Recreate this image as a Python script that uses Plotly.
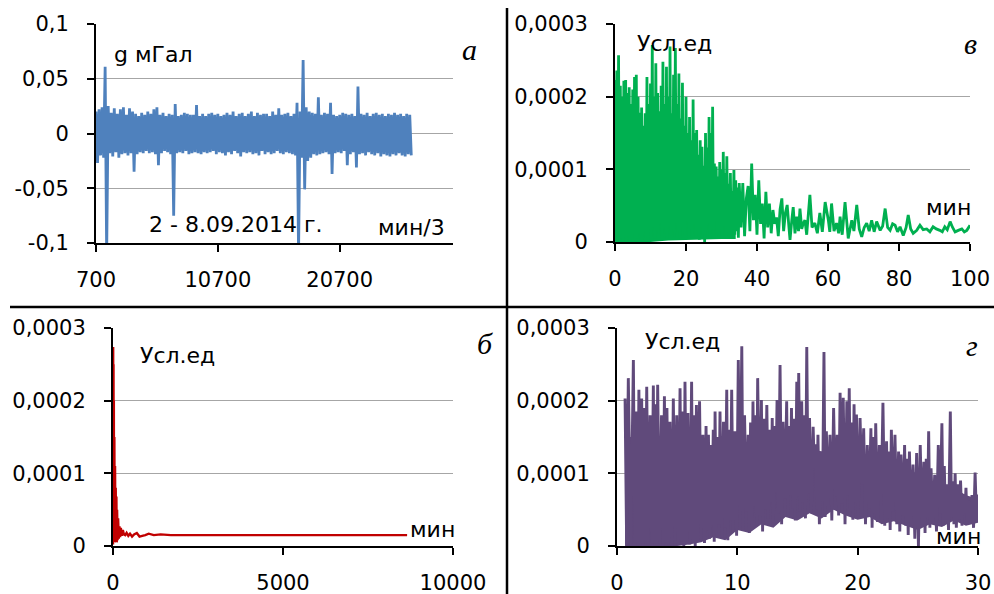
import plotly.graph_objects as go

# ---------------- DATA ----------------
# Panel "а": gravity record, x = sample number (мин/3), y in units of 0.001 мГал
A_UNIT = 1e-3
a_x = [
    700, 825, 950, 1075, 1200, 1325, 1450, 1575,
    1700, 1825, 1950, 2075, 2200, 2325, 2450, 2575,
    2700, 2825, 2950, 3075, 3200, 3325, 3450, 3575,
    3700, 3825, 3950, 4075, 4200, 4325, 4450, 4575,
    4700, 4825, 4950, 5075, 5200, 5325, 5450, 5575,
    5700, 5825, 5950, 6075, 6200, 6325, 6450, 6575,
    6700, 6825, 6950, 7075, 7200, 7325, 7450, 7575,
    7700, 7825, 7950, 8075, 8200, 8325, 8450, 8575,
    8700, 8825, 8950, 9075, 9200, 9325, 9450, 9575,
    9700, 9825, 9950, 10075, 10200, 10325, 10450, 10575,
    10700, 10825, 10950, 11075, 11200, 11325, 11450, 11575,
    11700, 11825, 11950, 12075, 12200, 12325, 12450, 12575,
    12700, 12825, 12950, 13075, 13200, 13325, 13450, 13575,
    13700, 13825, 13950, 14075, 14200, 14325, 14450, 14575,
    14700, 14825, 14950, 15075, 15200, 15325, 15450, 15575,
    15700, 15825, 15950, 16075, 16200, 16325, 16450, 16575,
    16700, 16825, 16950, 17075, 17200, 17325, 17450, 17575,
    17700, 17825, 17950, 18075, 18200, 18325, 18450, 18575,
    18700, 18825, 18950, 19075, 19200, 19325, 19450, 19575,
    19700, 19825, 19950, 20075, 20200, 20325, 20450, 20575,
    20700, 20825, 20950, 21075, 21200, 21325, 21450, 21575,
    21700, 21825, 21950, 22075, 22200, 22325, 22450, 22575,
    22700, 22825, 22950, 23075, 23200, 23325, 23450, 23575,
    23700, 23825, 23950, 24075, 24200, 24325, 24450, 24575,
    24700, 24825, 24950, 25075, 25200, 25325, 25450, 25575,
    25700, 25825, 25950, 26075, 26200, 26325, 26450, 26575,
]
a_y = [
    20, -27, 22, -20, 24, -22, 61, -110,
    25, -18, 19, -21, 23, -17, 18, -22,
    22, -19, 24, -18, 17, -20, 23, -18,
    20, -35, 18, -19, 16, -17, 19, -18,
    17, -16, 20, -18, 18, -17, 22, -19,
    24, -29, 17, -18, 19, -16, 16, -17,
    18, -19, 17, -75, 27, -18, 16, -17,
    17, -18, 19, -16, 18, -19, 17, -18,
    17, -17, 26, -18, 16, -19, 18, -17,
    16, -18, 18, -17, 19, -16, 17, -19,
    18, -17, 16, -18, 17, -20, 19, -17,
    17, -19, 20, -16, 16, -18, 18, -21,
    19, -17, 16, -18, 18, -17, 20, -19,
    16, -18, 19, -20, 17, -16, 18, -19,
    18, -17, 16, -19, 20, -18, 17, -16,
    23, -18, 17, -19, 18, -17, 19, -18,
    16, -19, 18, -20, 28, -110, 20, -22,
    67, -51, 24, -25, 20, -22, 19, -19,
    18, -20, 33, -19, 17, -18, 19, -17,
    18, -19, 28, -37, 17, -18, 16, -17,
    17, -18, 19, -16, 18, -29, 17, -19,
    18, -17, 16, -31, 43, -19, 18, -18,
    17, -20, 19, -17, 16, -19, 18, -20,
    19, -18, 17, -21, 18, -19, 16, -20,
    18, -21, 17, -19, 19, -20, 17, -18,
    18, -20, 16, -21, 18, -19, 17, -20,
]

# Spectra values in units of 1e-6 (Усл.ед)
S_UNIT = 1e-6

# Panel "б": spectrum 0..10000 мин
b_x = [0, 5, 10, 15, 20, 25, 30, 40, 50, 60,
       70, 80, 90, 100, 110, 120, 135, 150, 170, 190,
       210, 230, 260, 290, 320, 360, 400, 450, 500, 560,
       620, 700, 780, 860, 950, 1050, 1200, 1400, 1700, 2200,
       3000, 4000, 5000, 6000, 7000, 8000, 8650]
b_y = [2, 274, 40, 250, 20, 200, 10, 150, 5, 110,
       8, 80, 10, 68, 5, 50, 8, 38, 10, 27,
       12, 25, 14, 22, 16, 15, 18, 14, 17, 13,
       16, 18, 13, 14, 15, 17, 15, 16, 15, 15,
       15, 15, 15, 15, 15, 15, 15]

# Panel "в": spectrum 0..100 мин (peaks, troughs, and the sparse tail)
v_hi_x = [0, 0.5, 1, 1.5, 2, 2.5, 3, 3.5, 4, 4.5,
          5, 5.5, 6, 6.5, 7, 7.5, 8, 8.5, 9, 9.5,
          10, 10.5, 11, 11.5, 12, 12.5, 13, 13.5, 14, 14.5,
          15, 15.5, 16, 16.5, 17, 17.5, 18, 18.5, 19, 19.5,
          20, 20.5, 21, 21.5, 22, 22.5, 23, 23.5, 24, 24.5,
          25, 25.5, 26, 26.5, 27, 27.5, 28, 28.5, 29, 29.5,
          30, 30.5, 31, 31.5, 32, 32.5, 33, 33.5, 34, 34.5]
v_hi = [223, 236, 257, 215, 200, 222, 223, 205, 213, 190,
        210, 227, 230, 200, 178, 185, 160, 177, 227, 190,
        218, 271, 200, 246, 205, 180, 215, 248, 190, 241,
        200, 269, 177, 230, 267, 190, 232, 170, 219, 160,
        200, 150, 172, 140, 196, 150, 154, 120, 140, 131,
        105, 150, 130, 172, 150, 186, 108, 104, 90, 110,
        100, 124, 95, 118, 80, 95, 70, 99, 85, 75]
v_lo_x = [0.25, 0.75, 1.25, 1.75, 2.25, 2.75, 3.25, 3.75, 4.25, 4.75,
          5.25, 5.75, 6.25, 6.75, 7.25, 7.75, 8.25, 8.75, 9.25, 9.75,
          10.25, 10.75, 11.25, 11.75, 12.25, 12.75, 13.25, 13.75, 14.25, 14.75,
          15.25, 15.75, 16.25, 16.75, 17.25, 17.75, 18.25, 18.75, 19.25, 19.75,
          20.25, 20.75, 21.25, 21.75, 22.25, 22.75, 23.25, 23.75, 24.25, 24.75,
          25.25, 25.75, 26.25, 26.75, 27.25, 27.75, 28.25, 28.75, 29.25, 29.75,
          30.25, 30.75, 31.25, 31.75, 32.25, 32.75, 33.25, 33.75, 34.25, 34.75]
v_lo = [0, 3, 1, 5, 0, 6, 2, 8, 0, 4,
        10, 1, 5, 12, 2, 0, 15, 6, 3, 18,
        8, 20, 5, 16, 10, 25, 6, 20, 12, 4,
        22, 10, 18, 8, 26, 14, 5, 20, 15, 10,
        28, 6, 18, 12, 24, 8, 16, 3, 20, 10,
        0, 15, 25, 6, 18, 10, 28, 12, 5, 18,
        10, 22, 8, 16, 12, 4, 18, 10, 15, 6]
v_tail_x = [35.0, 35.5, 36.0, 36.5, 37.0, 37.5, 38.0, 38.5, 39.0, 39.5,
            40.0, 40.5, 41.0, 41.5, 42.0, 42.5, 43.0, 43.5, 44.0, 44.5,
            45.0, 45.5, 46.0, 46.5, 47.0, 47.5, 48.0, 48.5, 49.0, 49.3,
            49.8, 50.2, 50.7, 51.2, 51.7, 52.1, 52.6, 53.0, 53.5, 54.0,
            54.9, 55.5, 56.3, 57.0, 57.7, 58.4, 59.2, 60.1, 60.5, 61.0,
            61.7, 62.4, 63.0, 63.4, 64.0, 64.8, 65.7, 66.7, 67.3, 68.1,
            68.8, 69.5, 70.2, 70.9, 71.6, 72.3, 73.0, 73.7, 74.7, 75.4,
            76.1, 76.8, 77.5, 78.2, 78.9, 79.6, 80.3, 81.2, 82.0, 82.6,
            83.3, 84.0, 85.0, 85.9, 86.8, 87.8, 88.7, 89.6, 90.5, 91.5,
            92.2, 92.9, 93.6, 94.4, 95.1, 95.8, 96.7, 97.7, 98.4, 99.1,
            100.0]
v_tail = [81, 20, 81, 8, 60, 77, 15, 108, 30, 65,
          10, 85, 25, 53, 5, 69, 20, 53, 12, 44,
          25, 34, 8, 45, 60, 15, 40, 51, 20, 3,
          30, 48, 12, 35, 15, 46, 18, 25, 30, 10,
          65, 20, 26, 12, 40, 14, 55, 30, 14, 53,
          15, 26, 12, 35, 10, 55, 5, 30, 15, 51,
          18, 7, 20, 26, 15, 30, 14, 28, 16, 22,
          46, 20, 16, 25, 23, 14, 21, 9, 20, 37,
          18, 12, 16, 23, 17, 18, 14, 21, 18, 16,
          14, 21, 17, 28, 20, 14, 16, 18, 14, 16,
          23]
# Solid core of the dense green band (lower and upper edge of the filled body)
v_band_x = [0, 5, 10, 15, 20, 25, 30, 34]
v_band_lo = [0, 0, 0, 2, 3, 3, 4, 4]
v_band_hi = [140, 140, 135, 120, 100, 75, 50, 30]

# Panel "г": spectrum 0..30 мин (peaks and troughs)
g_hi_x = [0.67, 0.94, 1.36, 1.6, 1.82, 2.05, 2.25, 2.47, 2.75, 3.02,
          3.2, 3.38, 3.7, 3.94, 4.15, 4.4, 4.68, 4.96, 5.24, 5.45,
          5.65, 5.9, 6.2, 6.4, 6.6, 6.86, 7.14, 7.4, 7.6, 7.78,
          8.0, 8.15, 8.35, 8.56, 8.85, 9.12, 9.3, 9.53, 9.8, 10.08,
          10.37, 10.6, 10.9, 11.1, 11.3, 11.5, 11.69, 12.0, 12.2, 12.45,
          12.7, 12.9, 13.1, 13.3, 13.55, 13.8, 14.1, 14.3, 14.5, 14.7,
          14.94, 15.1, 15.35, 15.55, 15.77, 16.0, 16.3, 16.5, 16.7, 16.95,
          17.2, 17.4, 17.7, 18.0, 18.3, 18.54, 18.8, 19.1, 19.3, 19.5,
          19.7, 19.9, 20.2, 20.5, 20.8, 21.1, 21.3, 21.5, 21.8, 22.1,
          22.4, 22.6, 22.8, 23.1, 23.4, 23.6, 23.9, 24.1, 24.3, 24.6,
          24.9, 25.2, 25.5, 25.7, 25.9, 26.1, 26.4, 26.7, 27.0, 27.2,
          27.4, 27.7, 27.9, 28.1, 28.3, 28.55, 28.8, 29.0, 29.2, 29.5,
          29.76, 30.0]
g_hi = [203, 231, 256, 185, 215, 203, 190, 219, 180, 221,
        195, 222, 180, 206, 190, 171, 203, 180, 217, 185,
        226, 183, 226, 180, 194, 199, 153, 165, 153, 139,
        160, 185, 150, 185, 171, 215, 160, 215, 158, 256,
        275, 180, 153, 170, 199, 180, 231, 201, 175, 194,
        160, 176, 165, 201, 249, 171, 199, 165, 190, 175,
        226, 238, 199, 180, 274, 176, 164, 140, 153, 130,
        267, 158, 153, 190, 153, 211, 204, 199, 217, 170,
        195, 181, 176, 162, 139, 162, 150, 169, 139, 197,
        144, 130, 160, 153, 130, 126, 139, 120, 130, 112,
        128, 139, 116, 120, 158, 107, 98, 139, 169, 110,
        85, 185, 89, 100, 85, 90, 71, 80, 62, 70,
        101, 71]
g_lo_x = [0.8, 1.15, 1.48, 1.71, 1.93, 2.15, 2.36, 2.6, 2.88, 3.11,
          3.29, 3.54, 3.82, 4.05, 4.28, 4.54, 4.82, 5.1, 5.35, 5.55,
          5.78, 6.05, 6.3, 6.5, 6.73, 7.0, 7.27, 7.5, 7.69, 7.89,
          8.08, 8.25, 8.46, 8.7, 8.98, 9.21, 9.42, 9.66, 9.94, 10.22,
          10.48, 10.75, 11.0, 11.2, 11.4, 11.6, 11.85, 12.1, 12.33, 12.58,
          12.8, 13.0, 13.2, 13.42, 13.68, 13.95, 14.2, 14.4, 14.6, 14.82,
          15.02, 15.22, 15.45, 15.66, 15.88, 16.15, 16.4, 16.6, 16.82, 17.08,
          17.3, 17.55, 17.85, 18.15, 18.42, 18.67, 18.95, 19.2, 19.4, 19.6,
          19.8, 20.05, 20.35, 20.65, 20.95, 21.2, 21.4, 21.65, 21.95, 22.25,
          22.5, 22.7, 22.95, 23.25, 23.5, 23.75, 24.0, 24.2, 24.45, 24.75,
          25.05, 25.35, 25.6, 25.8, 26.0, 26.25, 26.55, 26.85, 27.1, 27.3,
          27.55, 27.8, 28.0, 28.2, 28.42, 28.67, 28.9, 29.1, 29.35, 29.63,
          29.88]
g_lo = [2, 0, 5, 1, 3, 0, 6, 2, 0, 4,
        1, 3, 0, 5, 2, 0, 4, 1, 6, 0,
        3, 2, 5, 0, 8, 15, 4, 22, 10, 28,
        6, 18, 30, 12, 25, 8, 35, 20, 14, 40,
        22, 48, 18, 35, 55, 28, 42, 20, 50, 38,
        60, 32, 74, 45, 30, 65, 40, 70, 52, 35,
        68, 48, 60, 38, 72, 45, 107, 50, 30, 62,
        40, 55, 35, 68, 42, 58, 30, 70, 48, 36,
        60, 40, 85, 30, 52, 25, 45, 33, 55, 28,
        38, 22, 48, 30, 20, 42, 28, 15, 36, 10,
        0, 30, 18, 40, 25, 33, 20, 45, 28, 35,
        22, 40, 30, 25, 37, 28, 45, 30, 35, 25,
        33]
# Solid core of the dense purple band (lower and upper edge of the filled body)
g_band_x = [0.67, 1, 2, 3, 4, 5, 6, 7, 8, 9,
            10, 11, 12, 13, 14, 15, 16, 17, 18, 19,
            20, 21, 22, 23, 24, 25, 26, 27, 28, 29,
            30]
g_band_lo = [0, 0, 0, 0, 0, 0, 2, 5, 12, 8,
             22, 18, 30, 25, 40, 35, 45, 38, 50, 42,
             36, 40, 30, 34, 28, 22, 30, 26, 35, 28,
             32]
g_band_hi = [150, 150, 150, 148, 145, 145, 140, 138, 130, 135,
             135, 140, 140, 145, 140, 138, 135, 130, 135, 130,
             125, 120, 115, 110, 105, 100, 90, 85, 80, 70,
             65]

# Tick values / labels
a_xticks = [700, 10700, 20700]
a_xlabels = ["700", "10700", "20700"]
a_yticks = [-0.1, -0.05, 0, 0.05, 0.1]
a_ylabels = ["-0,1", "-0,05", "0", "0,05", "0,1"]
s_yticks = [0, 0.0001, 0.0002, 0.0003]
s_ylabels = ["0", "0,0001", "0,0002", "0,0003"]
v_xticks = [0, 20, 40, 60, 80, 100]
v_xlabels = ["0", "20", "40", "60", "80", "100"]
b_xticks = [0, 5000, 10000]
b_xlabels = ["0", "5000", "10000"]
g_xticks = [0, 10, 20, 30]
g_xlabels = ["0", "10", "20", "30"]

# ---------------- BUILD ----------------
def merge(*pairs):
    pts = []
    for xs, ys in pairs:
        pts.extend(zip(xs, ys))
    pts.sort(key=lambda p: p[0])
    return [p[0] for p in pts], [p[1] * S_UNIT for p in pts]

vx, vy = merge((v_hi_x, v_hi), (v_lo_x, v_lo), (v_tail_x, v_tail))
gx, gy = merge((g_hi_x, g_hi), (g_lo_x, g_lo))
bx, by = merge((b_x, b_y))
ay = [v * A_UNIT for v in a_y]
gbx, gbl = merge((g_band_x, g_band_lo))
_, gbh = merge((g_band_x, g_band_hi))
vbx, vbl = merge((v_band_x, v_band_lo))
_, vbh = merge((v_band_x, v_band_hi))

GREEN = "#00B050"
PURPLE = "#604A7B"


def add_band(fig, xs, lo, hi, color, xa, ya):
    fig.add_trace(go.Scatter(x=xs, y=lo, mode="lines", xaxis=xa, yaxis=ya,
                             line=dict(color=color, width=0)))
    fig.add_trace(go.Scatter(x=xs, y=hi, mode="lines", xaxis=xa, yaxis=ya,
                             line=dict(color=color, width=0), fill="tonexty",
                             fillcolor=color))


fig = go.Figure()
fig.add_trace(go.Scatter(x=a_x, y=ay, mode="lines", xaxis="x", yaxis="y",
                         line=dict(color="#4F81BD", width=2.8, simplify=False)))
add_band(fig, vbx, vbl, vbh, GREEN, "x2", "y2")
fig.add_trace(go.Scatter(x=vx, y=vy, mode="lines", xaxis="x2", yaxis="y2",
                         line=dict(color=GREEN, width=2.8, simplify=False)))
fig.add_trace(go.Scatter(x=bx, y=by, mode="lines", xaxis="x3", yaxis="y3",
                         line=dict(color="#C00000", width=2.4, simplify=False)))
add_band(fig, gbx, gbl, gbh, PURPLE, "x4", "y4")
fig.add_trace(go.Scatter(x=gx, y=gy, mode="lines", xaxis="x4", yaxis="y4",
                         line=dict(color=PURPLE, width=2.9, simplify=False)))

W, H = 994, 594
def fx(px):
    return px / W
def fy(py):
    return 1 - py / H

TICKFONT = dict(family="DejaVu Sans", size=21, color="black")
base = dict(showline=True, linecolor="black", linewidth=2, ticks="outside",
            ticklen=7, tickwidth=2, tickcolor="black", zeroline=False,
            tickfont=TICKFONT, tickmode="array", fixedrange=True,
            automargin=False)
xbase = dict(base, showgrid=False, ticklabelstandoff=10)
ybase = dict(base, showgrid=True, gridcolor="#A6A6A6", gridwidth=1,
             ticklabelstandoff=14)

layout = dict(
    width=W, height=H, margin=dict(l=0, r=0, t=0, b=0, autoexpand=False),
    paper_bgcolor="white", plot_bgcolor="white", showlegend=False,
    hovermode=False,
    xaxis=dict(xbase, domain=[fx(96), fx(453)], range=[700, 30000], anchor="y",
               tickvals=a_xticks, ticktext=a_xlabels),
    yaxis=dict(ybase, domain=[fy(243), fy(24)], range=[-0.1, 0.1], anchor="x",
               tickvals=a_yticks, ticktext=a_ylabels),
    xaxis2=dict(xbase, domain=[fx(615), fx(970)], range=[0, 100], anchor="y2",
                tickvals=v_xticks, ticktext=v_xlabels),
    yaxis2=dict(ybase, domain=[fy(242), fy(24)], range=[0, 0.0003], anchor="x2",
                tickvals=s_yticks, ticktext=s_ylabels),
    xaxis3=dict(xbase, domain=[fx(113), fx(453)], range=[0, 10000], anchor="y3",
                tickvals=b_xticks, ticktext=b_xlabels),
    yaxis3=dict(ybase, domain=[fy(546), fy(328)], range=[0, 0.0003], anchor="x3",
                tickvals=s_yticks, ticktext=s_ylabels),
    xaxis4=dict(xbase, domain=[fx(617), fx(978)], range=[0, 30], anchor="y4",
                tickvals=g_xticks, ticktext=g_xlabels),
    yaxis4=dict(ybase, domain=[fy(546), fy(328)], range=[0, 0.0003], anchor="x4",
                tickvals=s_yticks, ticktext=s_ylabels),
)
fig.update_layout(**layout)

LBL = dict(family="DejaVu Sans", size=22, color="black")
ITL = dict(family="Liberation Serif", size=30, color="black")
ann = [
    ("g мГал", 112, 55, "left", LBL),
    ("<i>а</i>", 469, 50, "center", ITL),
    ("2 - 8.09.2014 г.", 147, 224, "left", LBL),
    ("мин/3", 447, 227, "right", LBL),
    ("Усл.ед", 635, 43, "left", LBL),
    ("<i>в</i>", 970, 43, "center", ITL),
    ("мин", 973, 208, "right", LBL),
    ("Усл.ед", 138, 355, "left", LBL),
    ("<i>б</i>", 485, 343, "center", ITL),
    ("мин", 457, 529, "right", LBL),
    ("Усл.ед", 643, 341, "left", LBL),
    ("<i>г</i>", 972, 345, "center", ITL),
    ("мин", 983, 536, "right", LBL),
]
for text, px, py, xa, font in ann:
    fig.add_annotation(text=text, x=fx(px), y=fy(py), xref="paper", yref="paper",
                       xanchor=xa, yanchor="middle", showarrow=False, font=font)

# Separator lines between the four panels
fig.add_shape(type="line", xref="paper", yref="paper", x0=fx(507), x1=fx(507),
              y0=0, y1=fy(8), line=dict(color="black", width=2.5))
fig.add_shape(type="line", xref="paper", yref="paper", x0=fx(10), x1=1,
              y0=fy(307), y1=fy(307), line=dict(color="black", width=2.5))

# Remove the browser's default page margin so the figure fills the window
fig.write_html("out.html", config={"displayModeBar": False},
               post_script="document.body.style.margin='0';"
                           "document.body.style.overflow='hidden';")
